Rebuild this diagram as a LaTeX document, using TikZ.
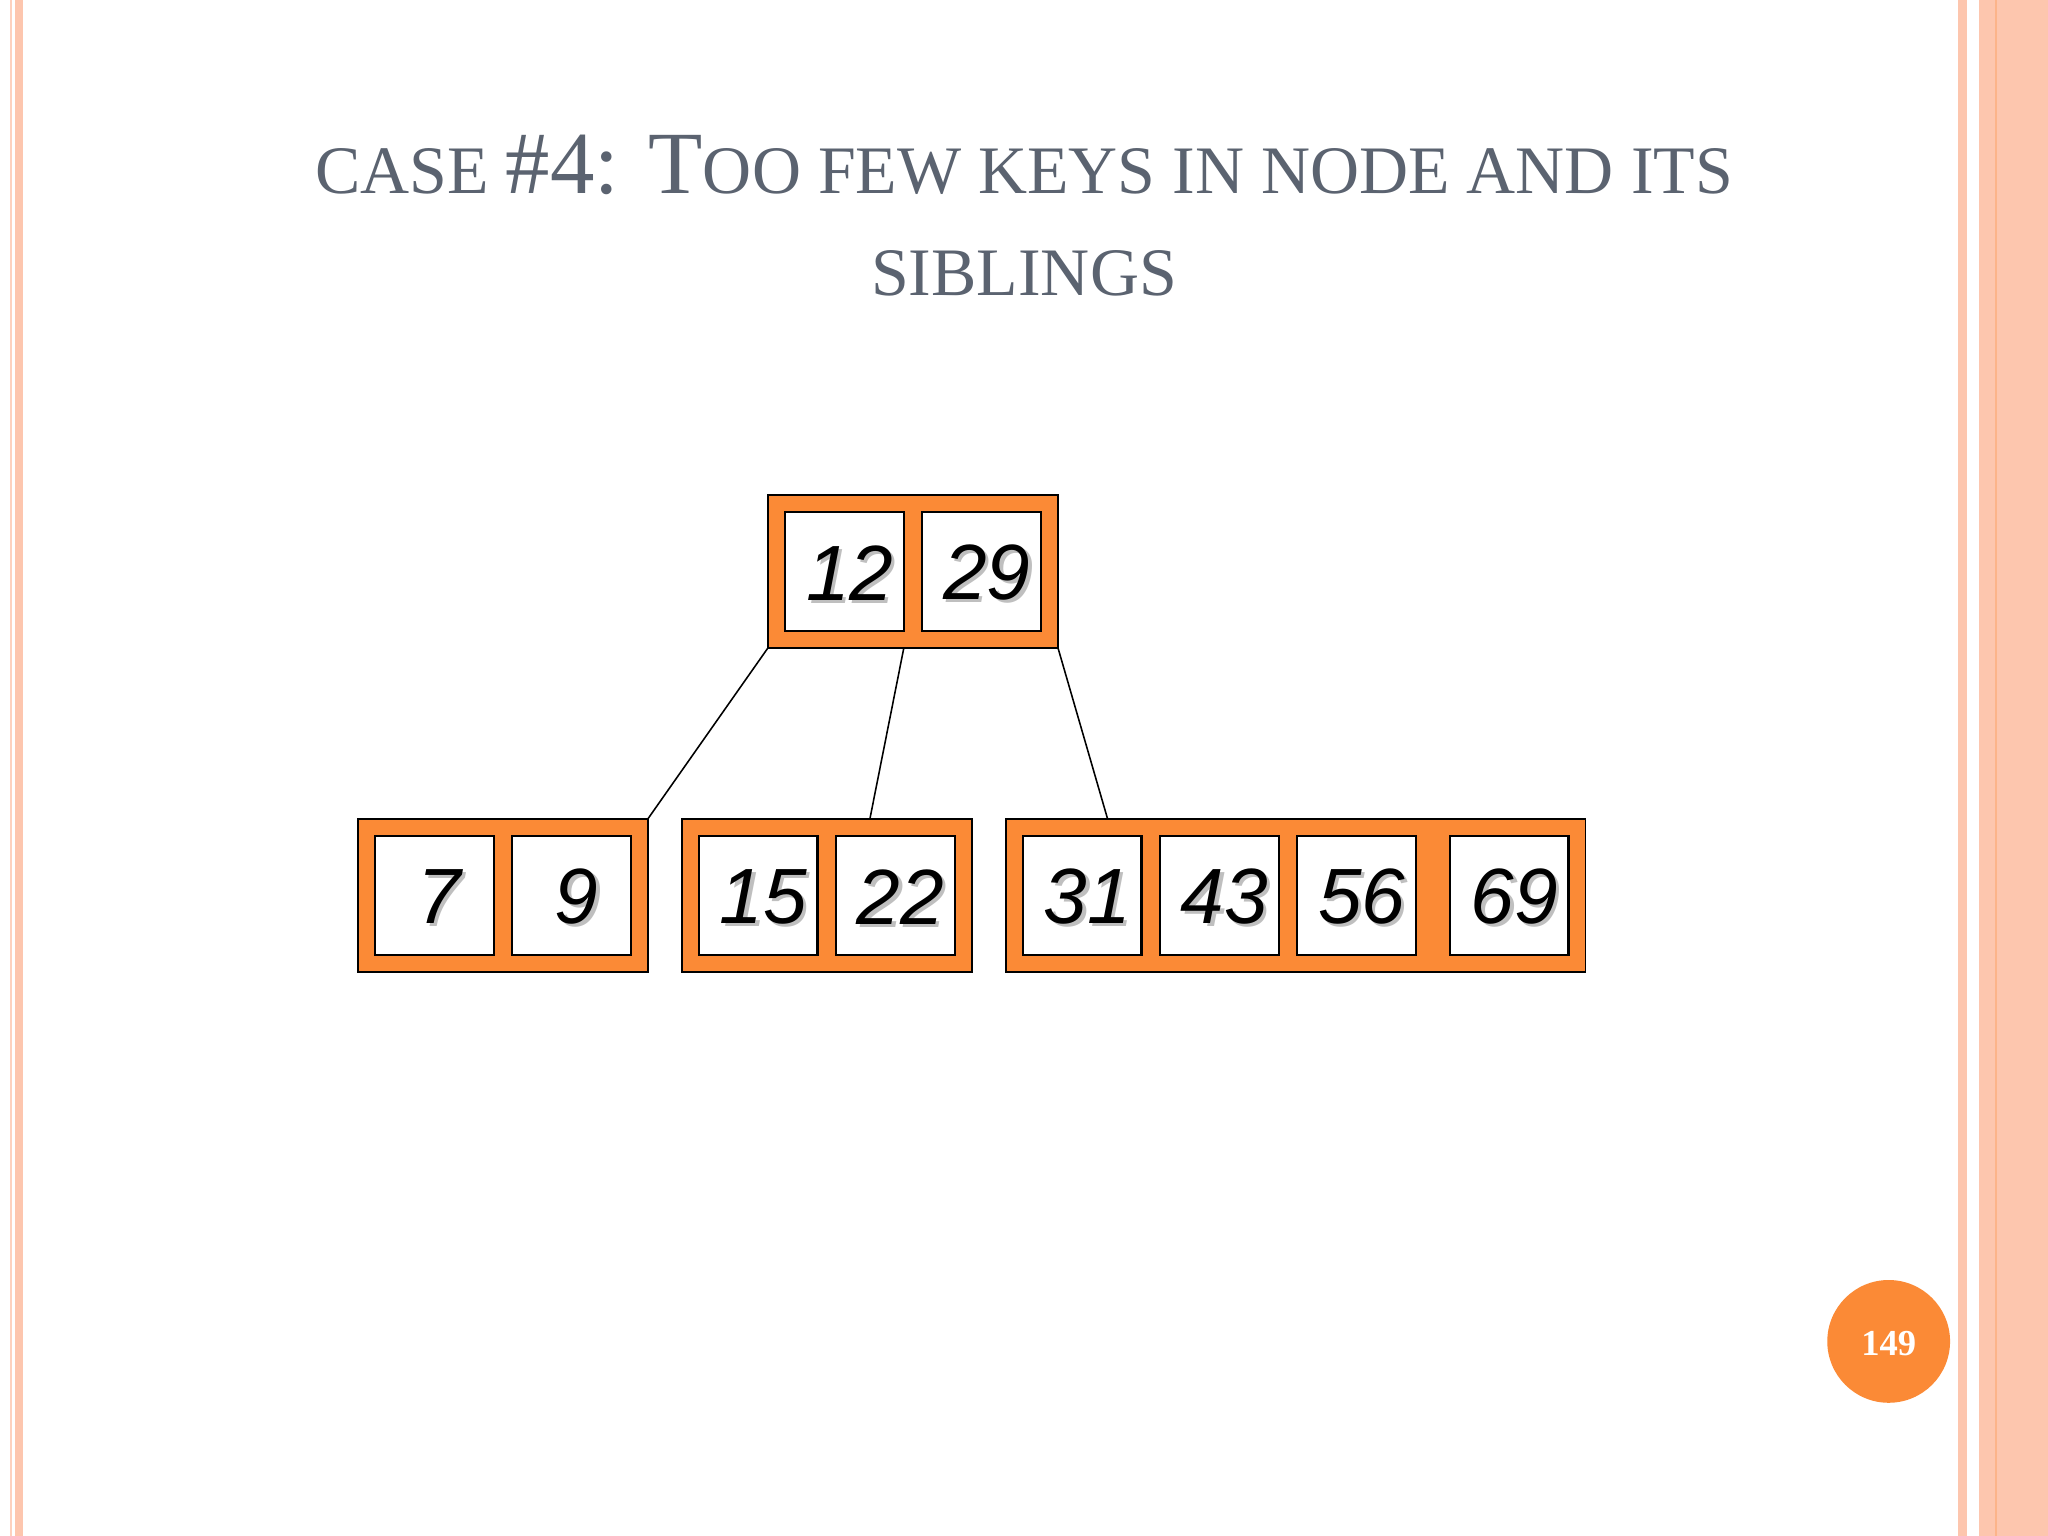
\documentclass[tikz,border=0pt]{standalone}
\usepackage{fontspec}
\setmainfont{Liberation Serif}
\newfontfamily\arialf{Liberation Sans}
\definecolor{orng}{HTML}{FB8A36}
\definecolor{pinkb}{HTML}{FDC6AE}
\definecolor{titleg}{HTML}{5B6370}
\newcommand{\bg}[1]{{\fontsize{34}{34}\selectfont #1}}
\newcommand{\sm}[1]{{\fontsize{26}{26}\selectfont #1}}
\tikzset{
 outerbox/.style={draw=black,fill=orng,line width=0.6pt},
 keybox/.style={draw=black,fill=white,line width=0.9pt},
 keytxt/.style={font=\arialf\itshape\fontsize{30}{30}\selectfont,inner sep=0pt},
 edge/.style={draw=black,line width=0.6pt}
}
\newcommand{\keyat}[3]{% x-left, y-top, text
 \draw[keybox] (#1,#2) rectangle ++(91,91);
 \node[keytxt,text=black!25] at (#1+52,#2+49) {#3};
 \node[keytxt] at (#1+49.5,#2+46.5) {#3};}
\begin{document}
\begin{tikzpicture}[x=0.5pt,y=-0.5pt]
\useasboundingbox (0,0) rectangle (1568,1176);
\fill[white] (0,0) rectangle (1568,1176);
% borders
\fill[pinkb!80] (7.5,0) rectangle (9.5,1176);
\fill[pinkb] (11.5,0) rectangle (17.5,1176);
\fill[pinkb] (1499,0) rectangle (1506,1176);
\fill[pinkb] (1515,0) rectangle (1568,1176);
\fill[pinkb!70!orng] (1527.5,0) rectangle (1529,1176);
% title
\node[text=titleg,anchor=base] (t1) at (784,148) {\sm{CASE\ }\bg{\#4: T}\sm{OO FEW KEYS IN NODE AND ITS}};
\node[text=titleg,anchor=base] (t2) at (784,226) {\sm{SIBLINGS}};
% nodes
\draw[outerbox] (588,379) rectangle (810,496);
\coordinate (rl) at (588,496); \coordinate (rm) at (692,496); \coordinate (rr) at (810,496);
\keyat{601}{392}{12}\keyat{706}{392}{29}
\draw[outerbox] (274,627) rectangle (496,744);
\coordinate (a) at (496,627);
\keyat{287}{640}{7}\keyat{392}{640}{9}
\draw[outerbox] (522,627) rectangle (744,744);
\coordinate (b) at (666,627);
\keyat{535}{640}{15}\keyat{640}{640}{22}
\draw[outerbox] (770,627) rectangle (1214,744);
\coordinate (c) at (848,627);
\keyat{783}{640}{31}\keyat{888}{640}{43}\keyat{993}{640}{56}\keyat{1110}{640}{69}
\draw[edge] (rl) -- (a);
\draw[edge] (rm) -- (b);
\draw[edge] (rr) -- (c);
% page number
\fill[orng] (1446,1027) circle[radius=47];
\node[text=white,font=\bfseries\fontsize{14}{14}\selectfont] (pg) at (1446,1029) {149};
\end{tikzpicture}
\end{document}
